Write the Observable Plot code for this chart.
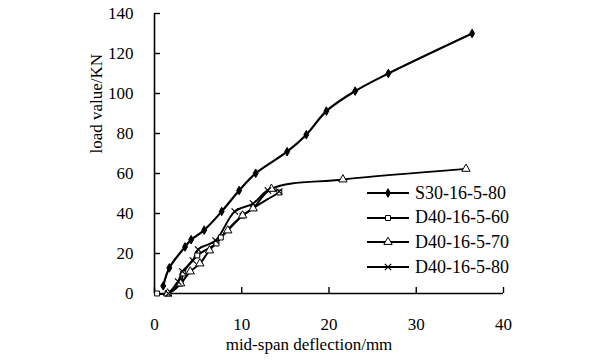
<!DOCTYPE html>
<html>
<head>
<meta charset="utf-8">
<script src="https://cdn.jsdelivr.net/npm/d3@7"></script>
<script src="https://cdn.jsdelivr.net/npm/@observablehq/plot@0.6"></script>
<style>
  html, body { margin: 0; padding: 0; background: #fff; }
  #wrap { position: relative; width: 600px; height: 364px; font-family: "Liberation Serif", "Times New Roman", serif; }
  #legend { position: absolute; left: 366px; top: 181px; font-size: 18px; color: #000; }
  .row { display: flex; align-items: center; height: 24.6px; }
  .row svg { margin-right: 5px; }
</style>
</head>
<body>
<div id="wrap"><div id="legend"></div></div>
<script>
// Data
const seriesNames = ["S30-16-5-80", "D40-16-5-60", "D40-16-5-70", "D40-16-5-80"];
const seriesSymbols = ["diamond", "square", "triangle", "times"];

const s30X = [1.0, 1.7, 3.5, 4.2, 5.7, 7.7, 9.7, 11.6, 15.2, 17.4, 19.7, 23.0, 26.8, 36.4];
const s30Y = [3.8, 12.8, 23.3, 26.9, 31.7, 41.0, 51.5, 60.1, 70.9, 79.4, 91.2, 101.2, 110.0, 130.0];

const d60X = [0.3, 1.5, 3.0, 3.3, 4.9, 7.1, 7.6, 10.1, 14.3];
const d60Y = [0, 0, 5, 10, 19, 25, 28, 39, 50.5];

const d70X = [1.5, 3.0, 4.1, 5.2, 6.3, 8.4, 10.1, 11.3, 13.4, 21.6, 35.7];
const d70Y = [0, 5, 11, 15, 21.5, 31.5, 39, 42.5, 52.3, 57.0, 62.3];

const d80X = [1.6, 2.7, 3.2, 4.4, 5.0, 7.0, 9.2, 11.3, 13.0, 14.3];
const d80Y = [0, 6, 11, 16.5, 22, 26.5, 41, 45, 51.5, 51];

const xTicks = [0, 10, 20, 30, 40];
const yTicks = [0, 20, 40, 60, 80, 100, 120, 140];
const xTitle = "mid-span deflection/mm";
const yTitle = "load value/KN";

const allX = [s30X, d60X, d70X, d80X];
const allY = [s30Y, d60Y, d70Y, d80Y];
const data = [];
allX.forEach((xs, si) => xs.forEach((x, i) => data.push({series: seriesNames[si], x, y: allY[si][i]})));
const bySeries = name => data.filter(d => d.series === name);

const markStyles = {
  "S30-16-5-80": {symbol: "diamond", fill: "black", stroke: "black", r: 2.6, sw: 1},
  "D40-16-5-60": {symbol: "square", fill: "white", stroke: "black", r: 2.8, sw: 1},
  "D40-16-5-70": {symbol: "triangle", fill: "white", stroke: "black", r: 3.1, sw: 1},
  "D40-16-5-80": {symbol: "times", fill: "none", stroke: "black", r: 3.0, sw: 1.2}
};

const marks = [];
seriesNames.forEach(name => {
  marks.push(Plot.line(bySeries(name), {x: "x", y: "y", curve: "catmull-rom", stroke: "black", strokeWidth: name === "S30-16-5-80" ? 2.2 : 1.9}));
});
seriesNames.forEach(name => {
  const st = markStyles[name];
  marks.push(Plot.dot(bySeries(name), {x: "x", y: "y", symbol: () => st.symbol, r: st.r, fill: st.fill, stroke: st.stroke, strokeWidth: st.sw}));
});

const chart = Plot.plot({
  width: 600,
  height: 364,
  marginLeft: 154,
  marginRight: 97,
  marginTop: 13,
  marginBottom: 71,
  style: {fontFamily: "Liberation Serif, Times New Roman, serif", fontSize: "17px", color: "black", background: "white"},
  x: {domain: [0, 40]},
  y: {domain: [0, 140]},
  symbol: {type: "identity"},
  marks: [
    Plot.axisX({ticks: xTicks, tickSize: 0, tickPadding: 24, label: null, fontSize: 17, tickFormat: d => String(d)}),
    Plot.axisY({ticks: yTicks, tickSize: 0, tickPadding: 21, label: null, fontSize: 17, tickFormat: d => String(d)}),
    Plot.ruleX(xTicks, {x: d => d, y1: 0, y2: 0, insetBottom: 6, stroke: "black", strokeWidth: 1.4}),
    Plot.ruleY(yTicks, {y: d => d, x1: 0, x2: 0, insetRight: -6, stroke: "black", strokeWidth: 1.4}),
    Plot.ruleY([0], {stroke: "black", strokeWidth: 1.6}),
    Plot.ruleX([0], {stroke: "black", strokeWidth: 1.6}),
    ...marks,
    Plot.text([xTitle], {text: d => d, frameAnchor: "bottom", dy: 56, dx: -20, fontSize: 17}),
    Plot.text([yTitle], {text: d => d, frameAnchor: "left", dx: -58, rotate: -90, fontSize: 17})
  ]
});
document.getElementById("wrap").prepend(chart);

// Legend (HTML overlay)
const legend = d3.select("#legend");
seriesNames.forEach(name => {
  const st = markStyles[name];
  const row = legend.append("div").attr("class", "row");
  const svg = row.append("svg").attr("width", 44).attr("height", 14);
  svg.append("line").attr("x1", 1).attr("x2", 43).attr("y1", 7).attr("y2", 7).attr("stroke", "black").attr("stroke-width", name === "S30-16-5-80" ? 2.2 : 1.9);
  const sym = {diamond: d3.symbolDiamond, square: d3.symbolSquare, triangle: d3.symbolTriangle, times: d3.symbolTimes}[st.symbol];
  const size = Math.PI * st.r * st.r;
  svg.append("path").attr("transform", "translate(22,7)").attr("d", d3.symbol(sym, size)())
    .attr("fill", st.fill).attr("stroke", st.stroke).attr("stroke-width", st.sw);
  row.append("span").text(name);
});
</script>
</body>
</html>
